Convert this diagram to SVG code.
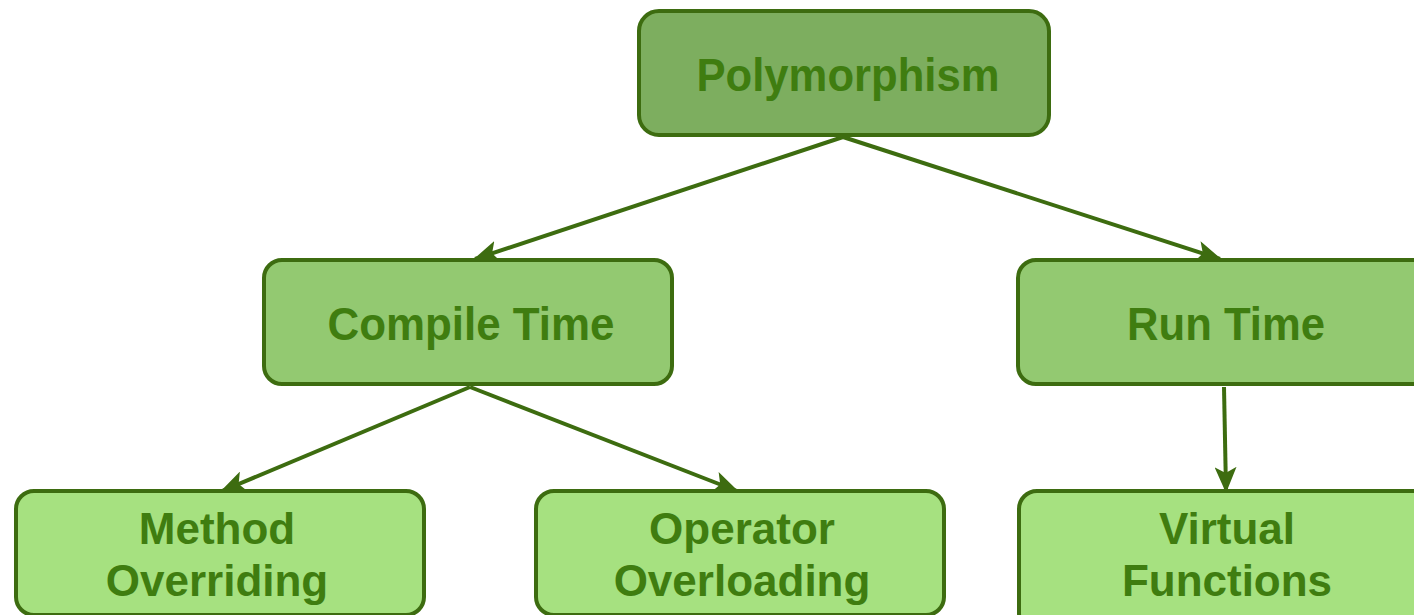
<svg xmlns="http://www.w3.org/2000/svg" width="1414" height="615" viewBox="0 0 1414 615">
<style>
.box{stroke:#3d6c10;stroke-width:4}
.l0{fill:#7dae5f}
.l1{fill:#93c971}
.l2{fill:#a6e180}
.t{font-family:"Liberation Sans",Arial,sans-serif;font-weight:bold;font-size:46px;fill:#3f7d10;text-anchor:middle}
.s{font-size:44px}
.c{stroke:#3d6c10;stroke-width:4;fill:none;marker-end:url(#ah)}
</style>
<defs>
<marker id="ah" viewBox="0 0 26 22" refX="24" refY="11" markerWidth="26" markerHeight="22" markerUnits="userSpaceOnUse" orient="auto">
<path d="M0,0 L26,11 L0,22 L6,11 Z" fill="#3d6c10"/>
</marker>
</defs>
<rect width="1414" height="615" fill="#fff"/>
<g id="connectors">
<line class="c" x1="843" y1="137" x2="475" y2="259"/>
<line class="c" x1="843" y1="137" x2="1220" y2="259"/>
<line class="c" x1="470" y1="387" x2="222" y2="491"/>
<line class="c" x1="470" y1="387" x2="737" y2="491"/>
<line class="c" x1="1224" y1="387" x2="1226" y2="491"/>
</g>
<g id="polymorphism">
<rect class="box l0" x="639" y="11" width="410" height="124" rx="20"/>
<text class="t" x="848" y="91" textLength="303" lengthAdjust="spacingAndGlyphs">Polymorphism</text>
</g>
<g id="compile-time">
<rect class="box l1" x="264" y="260" width="408" height="124" rx="18"/>
<text class="t" x="471" y="340" textLength="287" lengthAdjust="spacingAndGlyphs">Compile Time</text>
</g>
<g id="run-time">
<rect class="box l1" x="1018" y="260" width="420" height="124" rx="18"/>
<text class="t" x="1226" y="340" textLength="198" lengthAdjust="spacingAndGlyphs">Run Time</text>
</g>
<g id="method-overriding">
<rect class="box l2" x="16" y="491" width="408" height="124" rx="18"/>
<text class="t s" x="217" y="544">Method</text>
<text class="t s" x="217" y="596">Overriding</text>
</g>
<g id="operator-overloading">
<rect class="box l2" x="536" y="491" width="408" height="124" rx="18"/>
<text class="t s" x="742" y="544">Operator</text>
<text class="t s" x="742" y="596">Overloading</text>
</g>
<g id="virtual-functions">
<rect class="box l2" x="1019" y="491" width="420" height="140" rx="18"/>
<text class="t s" x="1227" y="544">Virtual</text>
<text class="t s" x="1227" y="596">Functions</text>
</g>
</svg>
